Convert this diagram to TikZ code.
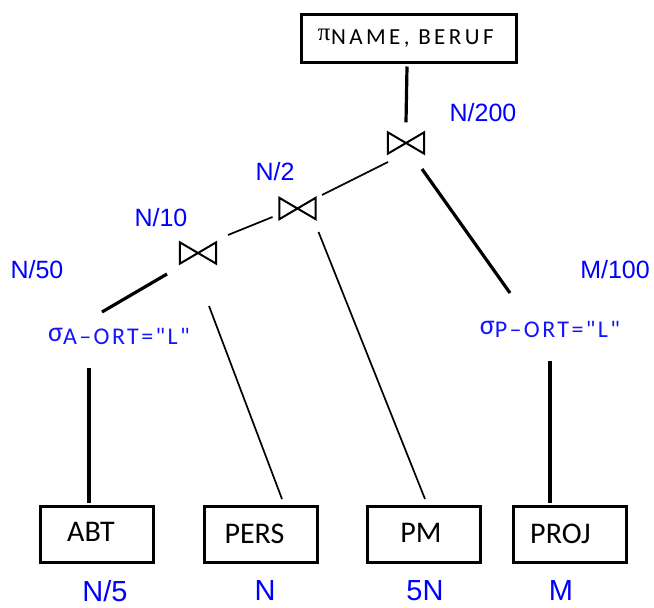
\documentclass[tikz,border=0pt]{standalone}
\usepackage{fontspec}
\setmainfont{Carlito}
\newfontfamily\selfont[Ligatures=TeXOff]{Carlito}
\newfontfamily\arialf{Liberation Sans}
\newfontfamily\serf{Liberation Serif}
\usetikzlibrary{calc}
\definecolor{lblblue}{RGB}{0,0,255}
\definecolor{selblue}{RGB}{20,20,255}
\tikzset{
  relbox/.style={draw, line width=3pt, minimum width=113pt, minimum height=56pt, inner sep=0pt,
    font=\fontsize{30}{30}\selectfont},
  card/.style={text=lblblue, inner sep=0pt, font=\arialf\fontsize{25}{25}\selectfont},
  cardbig/.style={text=lblblue, inner sep=0pt, font=\arialf\fontsize{29}{29}\selectfont},
  sel/.style={text=selblue, inner sep=0pt, font=\selfont},
  joinnode/.style={minimum width=36pt, minimum height=21pt, inner sep=0pt},
  bow/.style={line width=2pt, line join=miter},
  thk/.style={line width=3.2pt},
  thn/.style={line width=1.7pt},
}
\begin{document}
\begin{tikzpicture}[x=1pt,y=-1pt]
\useasboundingbox (0,0) rectangle (654,608);
% projection box
\node[draw, line width=3pt, minimum width=215pt, minimum height=48pt, inner sep=0pt] (tb) at (408.5,38)
  {\hspace*{-5.5pt}\raisebox{4pt}{\serf\fontsize{25}{25}\selectfont π}\hspace{0.5pt}{\fontsize{23}{23}\selectfont\addfontfeature{LetterSpace=15}NAME, BERUF}};
% joins
\node[joinnode] (j1) at (406,143) {};
\node[joinnode] (j2) at (297.5,208.5) {};
\node[joinnode] (j3) at (198,253) {};
\foreach \j in {j1,j2,j3}{
  \draw[bow] (\j.north west) -- (\j.south east) -- (\j.north east) -- (\j.south west) -- cycle;
}
% selections
\node[sel] (sa) at (119,336) {\raisebox{3pt}{\fontsize{28}{28}\selectfont σ}{\fontsize{24}{24}\selectfont\addfontfeature{LetterSpace=10}A–ORT="L"}};
\node[sel] (sp) at (550,329) {\raisebox{3pt}{\fontsize{28}{28}\selectfont σ}{\fontsize{24}{24}\selectfont\addfontfeature{LetterSpace=10}P–ORT="L"}};
% relations
\node[relbox] (abt) at (97,534) {\hspace*{-12pt}\raisebox{4pt}{ABT}};
\node[relbox] (pers) at (260.5,534) {\hspace*{-12pt}PERS};
\node[relbox] (pm) at (424,534) {\hspace*{-6pt}\raisebox{2pt}{PM}};
\node[relbox] (proj) at (569.5,534) {\hspace*{-18pt}PROJ};
% cardinalities
\node[card] (c200) at (483,113) {N/200};
\node[card] (c2) at (275,172) {N/2};
\node[card] (c10) at (161,218) {N/10};
\node[card] (c50) at (37,270) {N/50};
\node[card] (c100) at (615,270) {M/100};
\node[cardbig] (c5) at (105,591) {N/5};
\node[cardbig] (cn) at (265,591) {N};
\node[cardbig] (c5n) at (425,591) {5N};
\node[cardbig] (cm) at (561,591) {M};
% connectors
\draw[thk] ($(tb.south)+(-1.5,3)$) -- ($(j1.north)+(0,-10)$);
\draw[thn] ($(j2)+(24.5,-13.5)$) -- ($(j1)+(-18,19)$);
\draw[thn] ($(j3)+(30,-18)$) -- ($(j2)+(-25,8.5)$);
\draw[thk] ($(j3)+(-31,21)$) -- ($(sa)+(-17,-24)$);
\draw[thn] ($(j3)+(11,53)$) -- ($(pers)+(21.5,-35)$);
\draw[thn] ($(j2)+(21,23.5)$) -- ($(pm)+(1,-35)$);
\draw[thk] ($(j1)+(16,26)$) -- ($(sp)+(-40,-36)$);
\draw[thk] ($(sa)+(-30,32)$) -- ($(abt.north)+(-8,-2)$);
\draw[thk] ($(sp)+(0,32)$) -- ($(proj.north)+(-19.5,-2)$);
\end{tikzpicture}
\end{document}
